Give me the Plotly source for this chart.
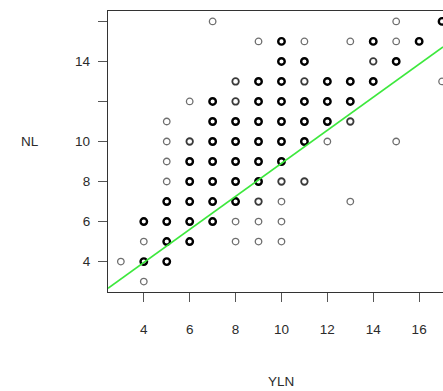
import plotly.graph_objects as go

# Data: YLN (x), NL (y), overplot weight (1 = single, 2 = few, 3 = many)
YLN = [7, 15, 17,
       9, 10, 11, 13, 14, 15, 16,
       10, 11, 14, 15,
       8, 9, 10, 11, 12, 13, 14, 17,
       6, 7, 8, 9, 10, 11, 12, 13,
       5, 7, 8, 9, 10, 11, 12, 13,
       5, 6, 7, 8, 9, 10, 11, 12, 15,
       5, 6, 7, 8, 9, 10,
       5, 6, 7, 8, 9, 10, 11,
       5, 6, 7, 8, 9, 10, 13,
       4, 5, 6, 7, 8, 9, 10,
       4, 5, 6, 8, 9, 10,
       3, 4, 5,
       4]
NL = [16, 16, 16,
      15, 15, 15, 15, 15, 15, 15,
      14, 14, 14, 14,
      13, 13, 13, 13, 13, 13, 13, 13,
      12, 12, 12, 12, 12, 12, 12, 12,
      11, 11, 11, 11, 11, 11, 11, 11,
      10, 10, 10, 10, 10, 10, 10, 10, 10,
      9, 9, 9, 9, 9, 9,
      8, 8, 8, 8, 8, 8, 8,
      7, 7, 7, 7, 7, 7, 7,
      6, 6, 6, 6, 6, 6, 6,
      5, 5, 5, 5, 5, 5,
      4, 4, 4,
      3]
WEIGHT = [1, 1, 3,
          1, 3, 1, 1, 3, 1, 3,
          3, 3, 2, 3,
          2, 3, 3, 2, 3, 3, 3, 1,
          1, 3, 2, 3, 3, 3, 3, 3,
          1, 3, 3, 3, 3, 3, 3, 2,
          1, 2, 3, 3, 3, 3, 3, 1, 1,
          1, 3, 3, 3, 3, 3,
          1, 3, 3, 3, 3, 2, 2,
          3, 3, 3, 3, 2, 1, 1,
          3, 3, 3, 3, 1, 1, 1,
          1, 3, 3, 1, 1, 1,
          1, 3, 3,
          1]

FIT_INTERCEPT = 0.65
FIT_SLOPE = 0.826

X_TICKS = [4, 6, 8, 10, 12, 14, 16]
Y_TICKS = [4, 6, 8, 10, 12, 14, 16]
Y_TICK_TEXT = ["4", "6", "8", "10", "", "14", ""]

X_RANGE = [2.44, 17.04]
Y_RANGE = [2.48, 16.52]

styles = {1: dict(color="#6e6e6e", width=1.3),
          2: dict(color="#3a3a3a", width=1.8),
          3: dict(color="#000000", width=2.4)}

fig = go.Figure()
for w in (1, 2, 3):
    xs = [x for x, wt in zip(YLN, WEIGHT) if wt == w]
    ys = [y for y, wt in zip(NL, WEIGHT) if wt == w]
    fig.add_trace(go.Scatter(
        x=xs, y=ys, mode="markers",
        marker=dict(symbol="circle-open", size=6.5,
                    color=styles[w]["color"],
                    line=dict(color=styles[w]["color"], width=styles[w]["width"])),
        showlegend=False, hoverinfo="skip"))

lx = X_RANGE
ly = [FIT_INTERCEPT + FIT_SLOPE * v for v in lx]
fig.add_trace(go.Scatter(x=lx, y=ly, mode="lines",
                         line=dict(color="#3de83d", width=1.6),
                         showlegend=False, hoverinfo="skip"))

font = dict(family="Liberation Sans, Arial, sans-serif", size=13.5, color="#2b2b2b")

fig.update_layout(
    template="none",
    width=443, height=391,
    margin=dict(l=108, r=0, t=11, b=99),
    paper_bgcolor="white", plot_bgcolor="white",
    font=font,
    xaxis=dict(range=X_RANGE, tickvals=X_TICKS, ticks="outside", ticklen=9,
               tickcolor="#555555", tickwidth=1.2,
               showline=True, linecolor="#333333", linewidth=1.3, mirror=True,
               showgrid=False, zeroline=False, ticklabelstandoff=16,
               tickfont=font),
    yaxis=dict(range=Y_RANGE, tickvals=Y_TICKS, ticktext=Y_TICK_TEXT,
               ticks="outside", ticklen=9, tickcolor="#555555", tickwidth=1.2,
               showline=True, linecolor="#333333", linewidth=1.3, mirror=False,
               showgrid=False, zeroline=False, ticklabelstandoff=5,
               tickfont=font),
    annotations=[
        dict(text="NL", x=-0.233, xref="paper", y=10, yref="y",
             showarrow=False, xanchor="center", yanchor="middle", font=font),
        dict(text="YLN", x=10, xref="x", y=-0.317, yref="paper",
             showarrow=False, xanchor="center", yanchor="middle", font=font),
    ],
)

fig.write_html("out.html")
